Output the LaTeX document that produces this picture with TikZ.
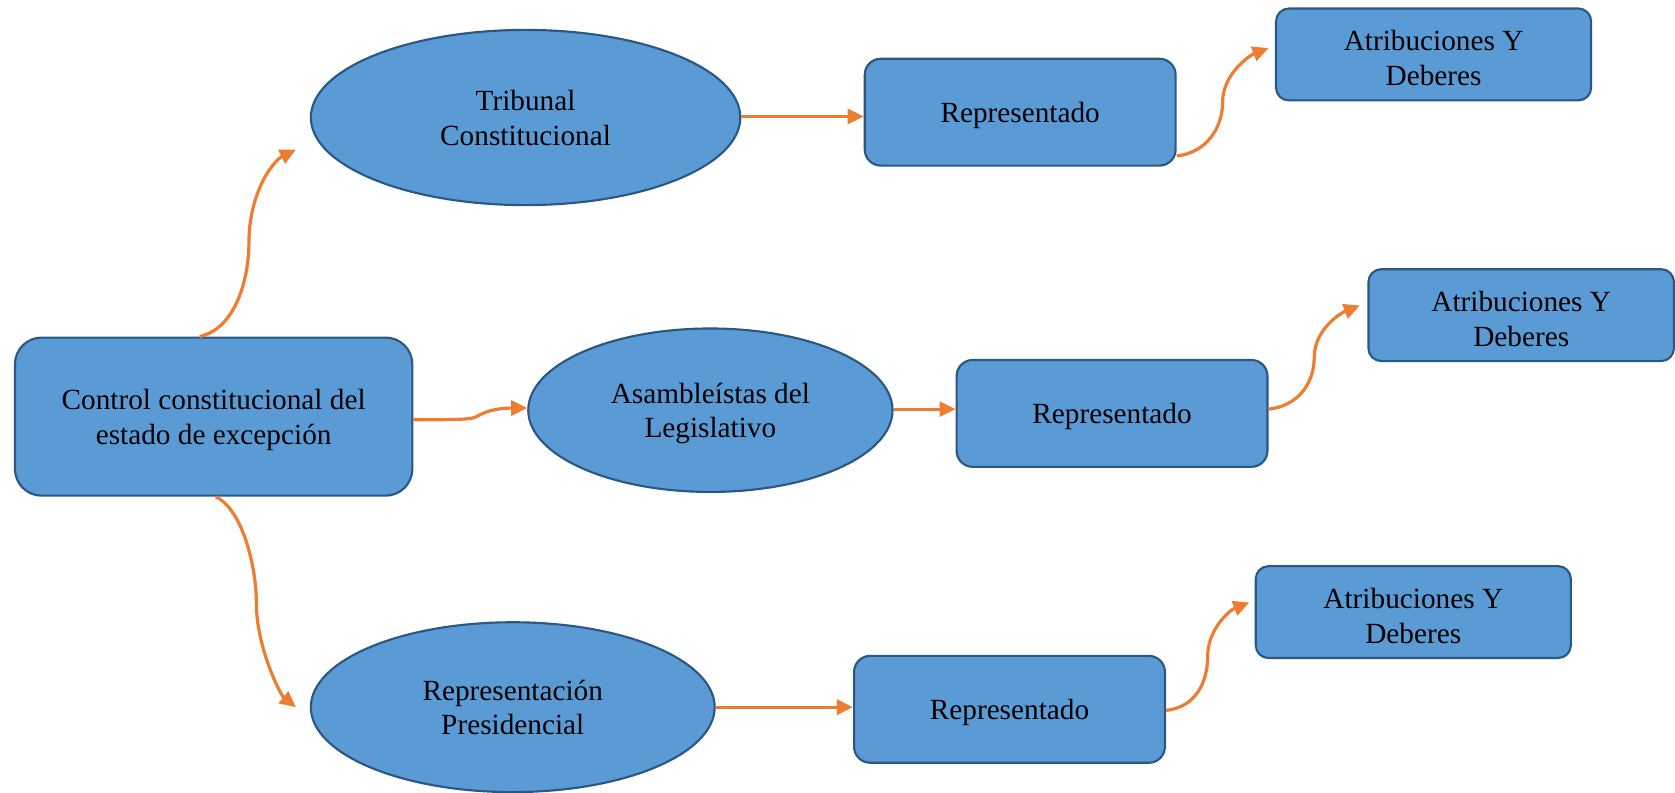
\documentclass[tikz,border=0pt]{standalone}
\usepackage{fontspec}
\setmainfont{Liberation Serif}
\usetikzlibrary{shapes.geometric,arrows.meta,calc}
\definecolor{boxfill}{HTML}{5B9BD5}
\definecolor{boxline}{HTML}{2A5783}
\definecolor{arrcol}{HTML}{ED7D31}
\begin{document}
\begin{tikzpicture}[x=1pt,y=-1pt,
  base/.style={fill=boxfill,draw=boxline,line width=2pt,align=center,inner sep=0pt,
    text depth=0pt,font=\fontsize{27.4pt}{32.5pt}\selectfont},
  oval/.style={base,ellipse},
  rbox/.style={base,rectangle,rounded corners=15pt,minimum width=291pt,minimum height=100pt},
  abox/.style={base,rectangle,rounded corners=12pt,minimum width=295pt,minimum height=86pt,text height=58pt},
  arr/.style={draw=arrcol,line width=3pt,-{Triangle[length=15pt,width=14pt]}}]
\path[use as bounding box] (0,0) rectangle (1568,742);

\node[base,rectangle,rounded corners=25pt,minimum width=372pt,minimum height=148pt] (c) at (200,390) {Control constitucional del\\estado de excepción};
\node[oval,minimum width=402pt,minimum height=164pt] (t) at (492,110) {Tribunal\\Constitucional};
\node[oval,minimum width=341pt,minimum height=153pt] (a) at (665,384) {Asambleístas del\\Legislativo};
\node[oval,minimum width=378pt,minimum height=159pt] (p) at (480,662) {Representación\\Presidencial};

\node[rbox] (r1) at (955,105) {Representado};
\node[rbox] (r2) at (1041,387) {Representado};
\node[rbox] (r3) at (945,664) {Representado};

\node[abox] (a1) at (1342,51) {Atribuciones Y\\Deberes};
\node[abox,minimum width=286pt] (a2) at (1424,295) {Atribuciones Y\\Deberes};
\node[abox] (a3) at (1323,573) {Atribuciones Y\\Deberes};

% from control node
\draw[arr] ([xshift=-13pt]c.north) .. controls +(35,-8) and +(0,30) .. (233,228)
  .. controls +(0,-50) and +(-20,10) .. ([xshift=-13pt,yshift=-30pt]t.west);
\draw[arr] ([xshift=2pt]c.south) .. controls +(25,12) and +(0,-35) .. (240,565)
  .. controls +(0,40) and +(-15,-12) .. ([xshift=-13pt]p.west);
\draw[arr] ([yshift=-3pt]c.east) .. controls +(55,0) and +(-5,3) .. (448,389)
  .. controls +(5,-3) and +(-30,0) .. ([yshift=2pt]a.west);

% ovals to Representado
\draw[arr] ([yshift=1pt]t.east) -- ([yshift=1pt]t.east -| r1.west);
\draw[arr] ([yshift=1pt]a.east) -- ([yshift=1pt]a.east -| r2.west);
\draw[arr] (p.east) -- (p.east -| r3.west);

% Representado to Atribuciones
\coordinate (s1) at ([yshift=10pt]r1.south east);
\coordinate (e1) at ([xshift=-6pt,yshift=6pt]a1.west);
\draw[arr] (s1) .. controls +(28,-3) and +(0,24) .. ($(s1)!.5!(e1)$)
  .. controls +(0,-26) and +(-18,7) .. (e1);
\coordinate (s2) at ([yshift=4pt]r2.east);
\coordinate (e2) at ([xshift=-7pt,yshift=9pt]a2.west);
\draw[arr] (s2) .. controls +(28,-3) and +(0,24) .. ($(s2)!.5!(e2)$)
  .. controls +(0,-26) and +(-18,7) .. (e2);
\coordinate (s3) at ([yshift=-1pt]r3.east);
\coordinate (e3) at ([xshift=-5pt,yshift=9pt]a3.west);
\draw[arr] (s3) .. controls +(28,-3) and +(0,24) .. ($(s3)!.5!(e3)$)
  .. controls +(0,-26) and +(-18,7) .. (e3);
\end{tikzpicture}
\end{document}
